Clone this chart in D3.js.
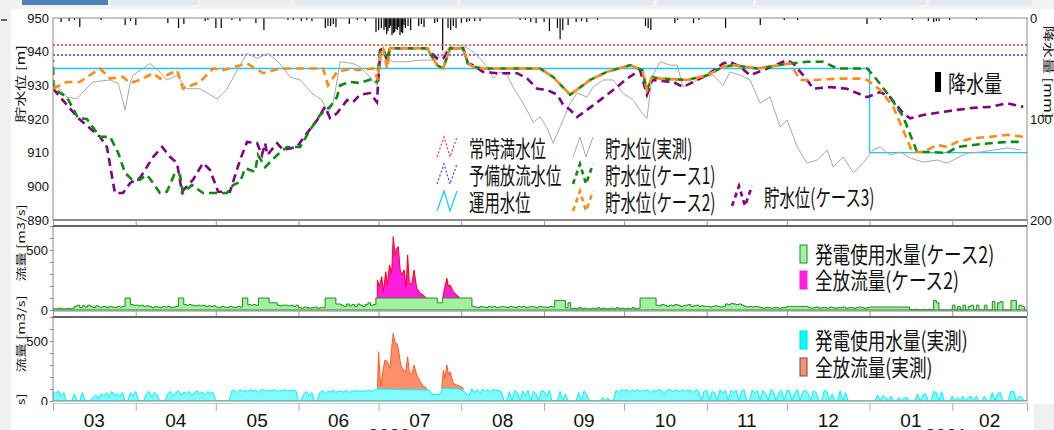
<!DOCTYPE html>
<html>
<head>
<meta charset="utf-8">
<script src="https://cdn.jsdelivr.net/npm/d3@7"></script>
<style>
body{margin:0;background:#fff;overflow:hidden}
svg{display:block}
</style>
</head>
<body>
<svg id="chart" width="1054" height="430"></svg>
<script>
// ---- data (day = days since 2020-03-01) ----
const monthLabels = ['03','04','05','06','07','08','09','10','11','12','01','02'];
const yearLabels = ['2020', '2021'];
const yearLabelDays = [126, 334.7];
const levelTicks = [890, 900, 910, 920, 930, 940, 950];
const rainTicks = [0, 100, 200];
const flowTicks = [0, 500];

const fullLevel = 942;      // 常時満水位
const preReleaseLevel = 939; // 予備放流水位
const opLevel = [[0,935],[306,935],[306,910],[365,910]]; // 運用水位

const levelNames = ['常時満水位','予備放流水位','運用水位','貯水位(実測)','貯水位(ケース1)','貯水位(ケース2)','貯水位(ケース3)'];
const flowNames2 = ['発電使用水量(ケース2)','全放流量(ケース2)'];
const flowNames3 = ['発電使用水量(実測)','全放流量(実測)'];

const obsLevel = [[0,931],[5.2,926.5],[9,926],[11.2,928],[15,931],[21.4,931.6],[24.5,930.5],[27,922.7],[29,931],[30,933],[36.4,936.5],[40,934],[42.7,931.6],[46.5,933],[50,929],[55,929],[61.5,926],[65,928.6],[69,934.5],[72.7,939.5],[76.5,938],[80.6,939.5],[85,936.5],[88.8,932.5],[92.6,931.6],[97,927.7],[100.8,925.6],[103,921.7],[105,924.7],[107.6,937],[112.4,936.5],[115,935.5],[118.8,932.5],[121.4,930],[123.3,939],[125.2,938],[127.4,937],[132.7,937],[137.6,937.5],[142.4,937.5],[145,938.5],[148.8,941.5],[151.4,942],[154.4,941.5],[157.4,940],[160,938],[162.7,935.5],[165,932],[167.5,934],[170.2,933],[172.4,929.5],[176.2,924.7],[180,919],[182.5,920.7],[185.2,917.3],[187.4,912.8],[190,917.6],[193.8,924.7],[196.4,927.7],[200.1,926.5],[202.4,929.5],[206.1,931.6],[209.9,931.6],[213.6,927.7],[217.4,925.6],[220.8,921.7],[222.6,920.2],[224.5,932.5],[227.5,937],[231.3,936],[233.9,936],[236.1,929.5],[239.9,931],[243.6,932.5],[247.4,933],[251.1,930],[253.7,934],[257.5,933],[261.2,931.6],[265,924.7],[268.7,926.6],[272.5,917.6],[275.1,919.7],[278.9,911.7],[282.6,906.9],[286.4,907.8],[290.1,910.8],[292.4,905.7],[296.1,908.7],[299.9,904],[303.6,906.9],[307.3,910.8],[310,911.7],[313.7,909.3],[317.5,910.2],[321.2,908.4],[326.1,907.2],[331.3,907.8],[335.1,906.9],[338.8,908.4],[342.7,909.9],[347.6,910.2],[352.8,910.8],[357.7,911.4],[362.6,910.8]];

const case1Level = [[0,937.5],[0.2,929],[5.2,926.5],[9.4,920.3],[12.7,920],[17.6,914.7],[21.4,914.7],[24.4,910],[27,904],[29.6,902],[32.6,902],[35.2,903.4],[37.5,901],[40.1,898],[42.7,898.4],[45.7,904],[47.6,903.4],[48.7,898],[52.1,900.4],[56.2,898],[65.2,898],[67.5,900.4],[70.1,901.3],[72,905.4],[75.7,904.3],[76.8,909.3],[79.5,905.7],[84,909.3],[87.7,911.7],[92.6,911.7],[96.3,916.7],[100.1,921.2],[103.8,923.6],[106.4,926.5],[107.6,930],[111.3,931],[115,930.7],[119.9,932],[121.4,931],[122.6,940.5],[123.7,941],[125.2,937.5],[126.3,941],[140.2,941],[143.9,936],[146.2,935],[148.8,941],[153.7,941],[155.5,936.5],[157.4,935.5],[161.2,935],[182.5,935],[187.4,932.5],[193.8,927.2],[201.3,931.6],[207.6,934],[216.3,936],[220.8,934.5],[222.6,928.6],[224.5,932.5],[227.5,932],[237.6,931.6],[242.5,932.5],[245.1,933],[251.1,935.5],[254.9,936],[263.9,935],[276.2,936.5],[282.6,937],[288.6,937],[293.9,935],[305.1,935],[308.8,931.6],[313.7,926.5],[318.6,920.7],[323.8,910.2],[328.7,910.2],[335.1,909.9],[338.8,911.7],[344.8,912.3],[351.2,912.8],[357.6,913.2],[363.6,913.2]];

const case2Level = [[0,929],[5.2,931],[10,931],[17.6,935],[21.4,932],[26.2,932.5],[28.9,930.7],[32.6,931.6],[37.5,933.6],[40.1,932],[46.5,934.5],[48.7,929],[55.1,931],[60,935],[63.7,934.5],[72.7,936.5],[78.7,933.6],[85,935],[101.2,935],[103.1,930],[106.4,934],[112.4,935],[114,934.5],[119.9,935],[121.8,931.5],[122.6,940.5],[123.7,941],[125.2,935],[126.3,941],[140.2,941],[143.9,936],[146.2,935],[148.8,941],[153.7,941],[155.5,936.5],[157.4,935.5],[161.2,935],[182.5,935],[187.4,932.5],[193.8,927.2],[201.3,931.6],[207.6,934],[216.3,936],[220.8,934.5],[222.6,928.6],[224.5,932.5],[227.5,932],[237.6,931.6],[242.5,932.5],[245.1,933],[251.1,935.5],[254.9,936],[263.9,935],[276.2,936.5],[280,931.6],[284.9,931.6],[294.9,932],[302.4,932],[305.1,931.6],[310,928.6],[314.9,923.6],[318.6,916.7],[322,910.2],[326.1,910.2],[331.3,912.3],[335.1,911.7],[338.8,913.2],[344.8,914.3],[351.2,914.7],[357.6,915.3],[363.6,914.7]];

const case3Level = [[0,929],[9.4,920.3],[17.6,914.7],[20.2,911.7],[23.2,898],[26.2,898],[28.9,901],[32.6,902.5],[37.5,908.7],[40.9,911.7],[43.9,908.7],[46.5,906.9],[48.3,898.4],[52.5,902],[56.2,906.9],[58.8,904.9],[61.9,898.4],[66.3,898.4],[70.1,907.8],[72.7,913.2],[76.5,912.8],[78.3,909.3],[79.5,912.8],[80.3,909.3],[84,912.8],[86.2,910.8],[91.4,911.7],[95.2,915.8],[99,919.7],[101.9,923.6],[103.8,920.3],[106.4,921.7],[110.2,925.6],[112.4,925],[115,927.2],[118.8,927.7],[121.4,925],[122.6,940.5],[123.7,941],[125.2,937.5],[126.3,941],[140.2,941],[143.9,938],[146.2,938],[148.8,941],[153.7,941],[155.5,936.5],[157.4,936],[161.2,934],[166.5,933.6],[174,933.6],[177.7,932],[181.5,929],[185.2,928.6],[189,927.2],[191.2,924.2],[193.8,922.7],[196.4,920.6],[200.1,922.7],[205,925.6],[209.9,928.6],[215.1,932],[220,934.5],[222.6,927.2],[224.5,931.6],[232.4,931],[236.1,929.5],[239.9,931],[245.1,933],[251.1,936.5],[253.7,937],[257.5,935.5],[261.2,933],[267.6,935],[275.1,937.5],[277.4,936.5],[282.6,931.6],[284.9,929],[291.2,929.5],[297.5,929],[301.3,927.7],[305.1,926.5],[310,928],[313.7,926.5],[318.6,921.7],[321.2,920.2],[326.1,921.2],[332.5,922],[338.8,922.7],[344.8,923.3],[351.2,923.6],[357.6,924.7],[363.6,923.6]];

// rainfall [day, mm]
const rain = [[3,4],[6,3],[8,2],[10,9],[18,2],[27,7],[29,3],[31,7],[43,5],[47,10],[49,6],[57,3],[58,2],[61,10],[63,10],[67,2],[70,3],[76,5],[79,12],[88,2],[90,2],[93,3],[95,2],[97,3],[102,10],[103,8],[104,8],[105,6],[106,9],[111,6],[114,2],[117,3],[121,14],[122,12],[123,10],[124,12],[124.5,9],[125,16],[125.5,13],[126,10],[126.5,8],[127,17],[127.5,15],[128,14],[128.5,11],[129,12],[129.5,9],[130,17],[130.5,14],[131,15],[131.5,7],[132,10],[133,8],[134,12],[137,8],[138,6],[139,9],[143,5],[144,4],[146,32],[148,10],[149,12],[150,8],[151,10],[153,5],[155,4],[156,3],[158,3],[160,3],[175,2],[177,2],[179,4],[181,5],[184,4],[186,13],[189,10],[190,21],[191,12],[193,7],[196,4],[198,3],[200,4],[204,2],[222,8],[223,10],[224,12],[233,5],[234,2],[240,5],[242,2],[252,10],[265,7],[274,2],[279,2],[305,6],[310,2],[322,2],[328,3],[330,4],[331,3],[332,3],[336,2],[346,2]];

// daily power-generation discharge, case 2 [m3/s]
const genCase2 = [
  10,10,15,10,10,12,10,15, 30,40,20,35,25,40,30,20,35,25, 25,30,20,30,25,20,30,25,30, 100,100, 45,40,
  40,35,40,30,35,30, 20,30,25,20,30,25,30,20,25,30, 100,100, 45,40,45,40,35,40,35,40,30,35,30,35,
  25,20,30,25,20,30,25,20,30,25, 100,100, 45,40,45,40, 100,100,100,100, 60,60,60, 40,35,40,40,35,40,30,40,
  20,15,25,20,15,20,25,15,20,20, 100,100,100,100, 50,50, 40,30,50,35,45,30,50,40,30,45, 60,40,45, 100,
  100,100,100,100,100,100,100,100,100,100,100,100,100,100,100,100,100,100,100,100,100,100, 60,60, 100,100,100,100,100,100,100,
  100,100,100,100, 30,25,20,30,25,20,30,25,30,20,25,30,25,20,30,25,20,30,25,30,20,25,30,25,20,30,25,
  25,20,30,25, 80,80,80,80, 20, 60, 10,15,10,20,10,15,10,10,15,10,20,10,15,10,10,15,10,20,10,15,
  10,15,10,20,10,15, 100,100,100,100,100,100, 40,35,45,40,30,40,35,45,40,30,35,40,45,30,35,40,30,35,30,
  30,25,30,35,30,25,30, 50,45,55,50,45,50,40, 30,25,30,25,30,25, 20,15,20,20,15,20,20,15,20,20,
  30,30,30,30,30,30,30,30, 20,15,20,25,15,20,20,15,25,20,15,20,20,25,15,20,20,15,20,25,20,15,20,
  25,25,25,25,25,25,25,25,25,25,25,25,25,25,25, 5,0,5,0,0,5,0,5, 0,80,60,0,0,0,0,0,
  40,0,30,0,40,0,30, 40,0,40, 0,0,40,0,0, 70,0,60,70, 0,0,0, 80,80, 0, 40,30, 0
];
// total release, case 2 [day, m3/s]; null splits events
const relCase2 = [[121.5,100],[121.6,250],[122.3,194],[123.2,278],[123.8,153],[124.7,319],[125.3,208],[126.1,375],[126.9,306],[127.5,611],[128.2,458],[128.8,514],[129.4,528],[130.1,333],[130.7,292],[131.6,333],[132.3,194],[132.9,458],[133.5,236],[134.4,208],[135.3,333],[136.3,181],[137.6,139],[138.8,125],[139.8,100],null,[146.1,100],[146.6,167],[147.6,264],[148.2,194],[148.8,208],[150,153],[151.3,125],[152.5,100]];

// daily power-generation discharge, observed [m3/s]
const genObs = [
  80,60,85,40,70,0, 0,0, 60,0,0,70,0,0,0, 30,50,20,60,40,70,30,80,50,60,40,70, 0,0, 70,40,
  80,0, 0,0, 60,80,30,70,50,0, 0,0, 60,80,40,70,85,50,75,60,80,45,70,85,60,75,50,80,65,70,
  0,0,0,0,0,0, 85,90,70,95,80,90,75,95,85,90,70,90,95,80,90,85,95,75,90,85,95,80,90,85,90,
  0,0, 60,80,40,70, 0,0, 70,85,60,80,75,90,70,85,80,75,90,70,85,80,90,75,85,80,90,85,80, 100,
  100,100,100,100,98,98,98,96,96,96,95,95,95,94,94,93,93,92,92,90, 55,55,55,55, 105,105,105,105,105,105,105,
  90,80,60,50, 100,70,95,60,100,80,95,70,100,85,90,75, 0,0, 80,0,90,70,0, 85,40,90,0,80,60, 0, 85,
  80,40,90,0, 0,0, 80,0,60, 0,0,0,0, 70,0,85,50,0, 0,0,0,0, 30,0,25,0, 0, 90,70,95,
  85,95,70,90,80,95,75,90,85,95,70,90,80,95,85,70,90,95,80,85,90,75,95,80,90,85,70,95,80, 0,80,
  90,0,80,70,0,95,60,90,0,85,70,90,0,80,95,0,0,90,70,85,0,90,60,0,95,80,0,70,90,0,
  85,90,0,70,95,0,80,90,60,0,85,70,0,0,90,80,0,60,0,0,85,0,70,0,0, 0,0,0,0,0,0,
  0,0,0, 50,0,45,30,0,40, 0,0, 30,0,25,30,0, 0,0, 60,0,50,60, 0,0, 80,70,0,80, 0,0,0,
  40,0,30,0,40,0,30, 40,0,40, 0,0,40,0,0, 70,0,60,70, 0,0,0, 80,80, 0, 40,30, 0
];
// total release, observed [day, m3/s]
const relObs = [[121.6,106],[122.0,411],[122.8,122],[123.6,244],[124.4,342],[125.3,328],[126.3,272],[126.9,439],[127.5,564],[128.2,481],[128.8,481],[129.4,439],[130.3,300],[131.3,258],[132.2,244],[132.9,369],[133.5,244],[134.4,217],[135.3,300],[136.3,217],[137.6,161],[138.8,122],[140.1,106],null,[145.7,106],[146.3,258],[146.9,189],[147.6,300],[148.2,217],[148.8,244],[150,147],[151.3,133],[152.5,122],[153.8,106]];

// ---- scales ----
const t0 = Date.UTC(2020, 2, 1);
const toDate = d => new Date(t0 + d * 864e5);
const tEnd = new Date(Date.UTC(2021, 2, 1));
const L = 53, R = 1027;
const x = d3.scaleUtc().domain([toDate(0), tEnd]).range([L, R]);
const yLevel = d3.scaleLinear().domain([890, 950]).range([220, 18]);
const yRain = d3.scaleLinear().domain([0, 200]).range([18, 220]);
const yFlow2 = d3.scaleLinear().domain([0, 700]).range([310, 226]);
const yFlow3 = d3.scaleLinear().domain([0, 700]).range([401, 317]);

const JP = '"Noto Sans CJK JP", "Noto Sans", sans-serif';
const EN = '"Liberation Sans", Arial, sans-serif';

const svg = d3.select('#chart');

// window chrome
svg.append('rect').attr('width', 1054).attr('height', 430).attr('fill', '#fff');
svg.append('rect').attr('width', 1054).attr('height', 9).attr('fill', '#f2f2f2');
svg.append('rect').attr('width', 11).attr('height', 430).attr('fill', '#f0f0f0');
svg.append('rect').attr('x', 1034).attr('y', 404).attr('width', 20).attr('height', 26).attr('fill', '#f0f0f0');
svg.append('line').attr('x1', 1).attr('x2', 7).attr('y1', 20).attr('y2', 20).attr('stroke', '#333').attr('stroke-width', 1.5);
[[22,108,'#4f7fbd'],[111,198,'#e3e9f1'],[200,291,'#ececec'],[294,457,'#e3e9f1'],[461,653,'#e3e9f1'],[657,753,'#e3e9f1'],[756,926,'#e3e9f1'],[929,1032,'#e3e9f1']]
  .forEach(t => svg.append('rect').attr('x', t[0]).attr('y', 0).attr('width', t[1] - t[0]).attr('height', 5).attr('fill', t[2]));

const months = d3.utcMonth.range(toDate(0), new Date(Date.UTC(2021, 2, 2)));

// small downward month ticks under a panel
function monthTicks(y) {
  svg.append('g').attr('transform', `translate(0,${y})`)
    .call(d3.axisBottom(x).tickValues(months).tickSize(5).tickFormat(''))
    .call(g => g.select('.domain').remove())
    .call(g => g.selectAll('line').attr('stroke', '#999'));
}

// ===== panel 1: water level + rain =====
svg.append('clipPath').attr('id', 'c1').append('rect').attr('x', L).attr('y', 18).attr('width', R - L).attr('height', 202);
const p1 = svg.append('g').attr('clip-path', 'url(#c1)');

p1.selectAll('rect.rain').data(rain).join('rect').attr('class', 'rain')
  .attr('x', d => x(toDate(d[0])) - 0.5).attr('y', yRain(0))
  .attr('width', 1.2).attr('height', d => yRain(d[1]) - yRain(0)).attr('fill', '#000');

const lvLine = d3.line().x(d => x(toDate(d[0]))).y(d => yLevel(d[1]));
const hLine = (v, color, dash) => p1.append('line').attr('x1', L).attr('x2', R)
  .attr('y1', yLevel(v)).attr('y2', yLevel(v)).attr('stroke', color).attr('stroke-width', 1.5).attr('stroke-dasharray', dash);
hLine(fullLevel, '#ff3030', '2,2');
hLine(preReleaseLevel, '#4040ff', '2,2');
p1.append('path').datum(opLevel).attr('d', lvLine).attr('fill', 'none').attr('stroke', '#19c8ff').attr('stroke-width', 1.3);

p1.append('path').datum(obsLevel).attr('d', lvLine).attr('fill', 'none').attr('stroke', '#a8a8a8').attr('stroke-width', 1);
p1.append('path').datum(case3Level).attr('d', lvLine).attr('fill', 'none').attr('stroke', '#800080').attr('stroke-width', 2.6).attr('stroke-dasharray', '8,5');
p1.append('path').datum(case1Level).attr('d', lvLine).attr('fill', 'none').attr('stroke', '#118811').attr('stroke-width', 2.6).attr('stroke-dasharray', '8,5').attr('stroke-dashoffset', 6);
p1.append('path').datum(case2Level).attr('d', lvLine).attr('fill', 'none').attr('stroke', '#ff8c1a').attr('stroke-width', 2.6).attr('stroke-dasharray', '8,5');

svg.append('rect').attr('x', L).attr('y', 18).attr('width', R - L).attr('height', 202)
  .attr('fill', 'none').attr('stroke', '#8a8a8a');
svg.append('line').attr('x1', L).attr('x2', R).attr('y1', 220).attr('y2', 220).attr('stroke', '#555');
monthTicks(220);

svg.append('g').attr('transform', `translate(${L},0)`)
  .call(d3.axisLeft(yLevel).tickValues(levelTicks).tickSize(0).tickPadding(4))
  .call(g => g.select('.domain').remove())
  .call(g => g.selectAll('text').attr('font-family', EN).attr('font-size', 13).attr('fill', '#111'));
svg.append('g').attr('transform', `translate(${R},0)`)
  .call(d3.axisRight(yRain).tickValues(rainTicks).tickSize(0).tickPadding(3))
  .call(g => g.select('.domain').remove())
  .call(g => g.selectAll('text').attr('font-family', EN).attr('font-size', 13).attr('fill', '#111'));

// rotated axis titles (stretched along the text direction like the source)
function vText(xp, yp, str, fs, rot) {
  svg.append('text').attr('transform', `translate(${xp},${yp}) rotate(${rot}) scale(1.4,1)`)
    .attr('text-anchor', 'middle').attr('dominant-baseline', 'central')
    .attr('font-family', JP).attr('font-size', fs).attr('fill', '#111').text(str);
}
vText(20, 84, '貯水位 [m]', 11.5, -90);
vText(1049, 72, '降水量 [mm]', 11.5, 90);

// legend for panel 1
function jp(xp, yp, str, fs, sy) {
  svg.append('text').attr('transform', `translate(${xp},${yp}) scale(1,${sy})`)
    .attr('dominant-baseline', 'central').attr('font-family', JP)
    .attr('font-size', fs).attr('fill', '#111').text(str);
}
const zig = (x0, cy) => [[x0, cy + 10], [x0 + 7, cy - 10], [x0 + 13, cy + 10], [x0 + 20, cy - 10]];
const legendStyles = [
  {c: '#ff3030', w: 1.2, dash: '2,2'}, {c: '#4040ff', w: 1.2, dash: '2,2'}, {c: '#19c8ff', w: 1.2, dash: null},
  {c: '#a8a8a8', w: 1, dash: null}, {c: '#118811', w: 2.6, dash: '5,4'}, {c: '#ff8c1a', w: 2.6, dash: '5,4'}, {c: '#800080', w: 2.6, dash: '5,4'}
];
const legendPos = [[437, 147], [437, 174], [437, 201], [573, 147], [573, 174], [573, 201], [732, 196]];
levelNames.forEach((n, i) => {
  const [lx, ly] = legendPos[i], s = legendStyles[i];
  svg.append('path').attr('d', d3.line()(zig(lx, ly))).attr('fill', 'none')
    .attr('stroke', s.c).attr('stroke-width', s.w).attr('stroke-dasharray', s.dash);
  jp(lx + 32, ly, n, 15.4, 1.5);
});
svg.append('rect').attr('x', 935).attr('y', 72).attr('width', 6).attr('height', 20).attr('fill', '#000');
jp(948, 82, '降水量', 18, 1.25);

// ===== panel 2: flows, case 2 =====
const stepArea = (yS) => d3.area().curve(d3.curveStepAfter)
  .x(d => x(toDate(d[0]))).y0(yS(0)).y1(d => yS(d[1]));
const spikeArea = (yS) => d3.area()
  .x(d => x(toDate(d[0]))).y0(yS(0)).y1(d => yS(d[1]));
const linArea = (yS) => d3.area().defined(d => d !== null)
  .x(d => x(toDate(d[0]))).y0(yS(0)).y1(d => yS(d[1]));
const linTop = (yS) => d3.line().defined(d => d !== null)
  .x(d => x(toDate(d[0]))).y(d => yS(d[1]));
const daily = arr => arr.map((v, i) => [i, v]).concat([[arr.length, arr[arr.length - 1]]]);

svg.append('clipPath').attr('id', 'c2').append('rect').attr('x', L).attr('y', 226).attr('width', R - L).attr('height', 85);
const p2 = svg.append('g').attr('clip-path', 'url(#c2)');
p2.append('path').datum(relCase2).attr('d', linArea(yFlow2)).attr('fill', '#ff1ee0');
p2.append('path').datum(relCase2).attr('d', linTop(yFlow2)).attr('fill', 'none').attr('stroke', '#ff0000').attr('stroke-width', 1);
p2.append('path').datum(daily(genCase2)).attr('d', stepArea(yFlow2)).attr('fill', '#a3f0a3')
  .attr('stroke', '#1e8c1e').attr('stroke-width', 1);
svg.append('rect').attr('x', L).attr('y', 226).attr('width', R - L).attr('height', 85)
  .attr('fill', 'none').attr('stroke', '#8a8a8a');
svg.append('line').attr('x1', L).attr('x2', R).attr('y1', 226).attr('y2', 226).attr('stroke', '#444').attr('stroke-width', 1.5);
monthTicks(311);

function flowAxis(yS) {
  svg.append('g').attr('transform', `translate(${L},0)`)
    .call(d3.axisLeft(yS).tickValues(d3.range(0, 701, 100)).tickSize(3).tickPadding(2)
      .tickFormat(d => flowTicks.includes(d) ? d : ''))
    .call(g => g.select('.domain').remove())
    .call(g => g.selectAll('line').attr('stroke', '#888'))
    .call(g => g.selectAll('text').attr('font-family', EN).attr('font-size', 13).attr('fill', '#111'));
}
flowAxis(yFlow2);
vText(20, 243, '流量 [m3/s]', 10.5, -90);

function swatch(sx, cy, fill, stroke) {
  svg.append('rect').attr('x', sx).attr('y', cy - 9).attr('width', 7).attr('height', 18)
    .attr('fill', fill).attr('stroke', stroke).attr('stroke-width', 1);
}
swatch(800, 254, '#a3f0a3', '#1e8c1e');
jp(815, 254, flowNames2[0], 17.6, 1.28);
swatch(800, 280, '#ff1ee0', '#ff1ee0');
jp(815, 280, flowNames2[1], 17.6, 1.28);

// ===== panel 3: flows, observed =====
svg.append('clipPath').attr('id', 'c3').append('rect').attr('x', L).attr('y', 317).attr('width', R - L).attr('height', 84);
const p3 = svg.append('g').attr('clip-path', 'url(#c3)');
p3.append('path').datum(relObs).attr('d', linArea(yFlow3)).attr('fill', '#ff8f6a');
p3.append('path').datum(relObs).attr('d', linTop(yFlow3)).attr('fill', 'none').attr('stroke', '#ff5a28').attr('stroke-width', 1);
p3.append('path').datum(daily(genObs)).attr('d', spikeArea(yFlow3)).attr('fill', '#80fcff')
  .attr('stroke', '#00f0ff').attr('stroke-width', 1);
svg.append('rect').attr('x', L).attr('y', 317).attr('width', R - L).attr('height', 84)
  .attr('fill', 'none').attr('stroke', '#8a8a8a');
svg.append('line').attr('x1', L).attr('x2', R).attr('y1', 317).attr('y2', 317).attr('stroke', '#444').attr('stroke-width', 1.5);
flowAxis(yFlow3);
vText(20, 334, '流量 [m3/s]', 10.5, -90);
vText(20, 432, '流量 [m3/s]', 10.5, -90);

swatch(800, 340, '#00ffff', '#00d8e0');
jp(815, 340, flowNames3[0], 17.6, 1.28);
swatch(800, 367, '#ff8f6a', '#555');
jp(815, 367, flowNames3[1], 17.6, 1.28);

// ===== time axis =====
svg.append('rect').attr('x', 11).attr('y', 405).attr('width', 1023).attr('height', 25).attr('fill', '#fff');
svg.append('g').attr('transform', 'translate(0,403)')
  .call(d3.axisBottom(x).tickValues(months).tickSize(8).tickFormat(''))
  .call(g => g.select('.domain').attr('stroke', '#ccc'))
  .call(g => g.selectAll('line').attr('stroke', '#aaa'));
const mids = months.slice(0, 12).map((m, i) => new Date((m.getTime() + months[i + 1].getTime()) / 2));
svg.append('g').selectAll('text').data(monthLabels).join('text')
  .attr('x', (d, i) => x(mids[i])).attr('y', 427).attr('text-anchor', 'middle')
  .attr('font-family', EN).attr('font-size', 19).attr('fill', '#111').text(d => d);
svg.append('g').selectAll('text').data(yearLabels).join('text')
  .attr('x', (d, i) => x(toDate(yearLabelDays[i]))).attr('y', 442).attr('text-anchor', 'middle')
  .attr('font-family', EN).attr('font-size', 19).attr('fill', '#111').text(d => d);
</script>
</body>
</html>
